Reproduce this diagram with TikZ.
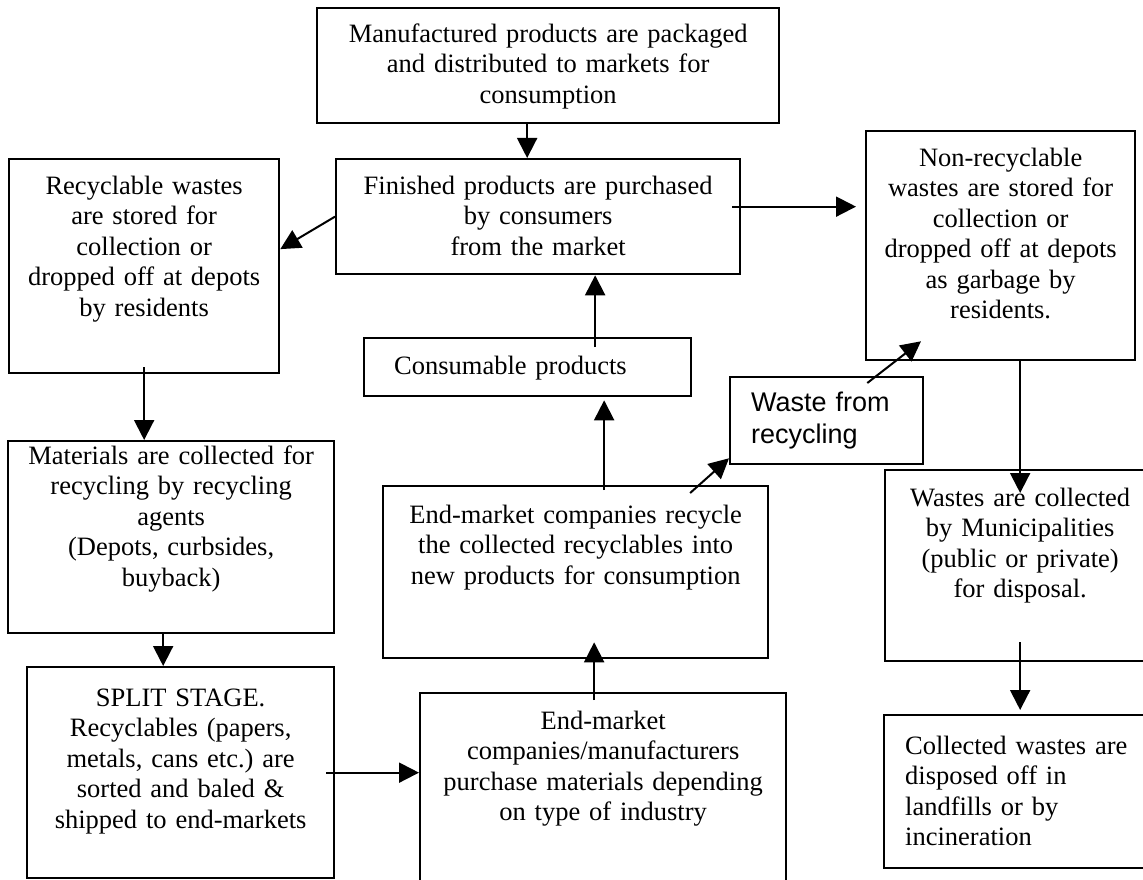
\documentclass[tikz,border=0pt]{standalone}
\usepackage{fontspec}
\setmainfont{Liberation Serif}
\newfontfamily\arialfont{Liberation Sans}
\usetikzlibrary{arrows.meta}
\frenchspacing

\begin{document}
\begin{tikzpicture}[x=1pt,y=-1pt,
  box/.style={draw,line width=2.3pt,align=center,inner sep=0pt,anchor=north west,font=\fontsize{26.5}{30.5}\selectfont},
  arr/.style={line width=2pt,-{Triangle[length=20pt,width=20pt]}}]
  \useasboundingbox (0,0) rectangle (1143,880);
  \node[box,text width=462pt,text height=34pt,text depth=81pt] (maf) at (316,7) {Manufactured products are packaged\\and distributed to markets for\\consumption};
  \node[box,text width=404pt,text height=35pt,text depth=80pt] (buy) at (335,158) {Finished products are purchased\\by consumers\\from the market};
  \node[box,text width=270pt,text height=35pt,text depth=179pt] (recyc) at (8,158) {Recyclable wastes\\are stored for\\collection or\\dropped off at depots\\by residents};
  \node[box,text width=269pt,text height=35pt,text depth=194pt] (nonrec) at (865,130) {Non-recyclable\\wastes are stored for\\collection or\\dropped off at depots\\as garbage by\\residents.};
  \node[box,align=left,inner xsep=30pt,text width=267pt,text height=36pt,text depth=22pt] (cons) at (363,337) {Consumable products};
  \node[box,align=left,inner xsep=21pt,text width=151pt,text height=34pt,text depth=53pt,font=\arialfont\fontsize{27}{32}\selectfont] (wfr) at (729,376) {Waste from\\recycling};
  \node[box,text width=326pt,text height=23pt,text depth=169pt] (coll) at (7,440) {Materials are collected for\\recycling by recycling\\agents\\(Depots, curbsides,\\buyback)};
  \node[box,text width=307pt,text height=39pt,text depth=172pt] (split) at (26,666) {SPLIT STAGE.\\Recyclables (papers,\\metals, cans etc.) are\\sorted and baled \&\\shipped to end-markets};
  \node[box,text width=385pt,text height=37pt,text depth=135pt] (newp) at (382,485) {End-market companies recycle\\the collected recyclables into\\new products for consumption};
  \node[box,text width=366pt,text height=36pt,text depth=190pt] (purch) at (419,692) {End-market\\companies/manufacturers\\purchase materials depending\\on type of industry};
  \node[box,text width=270pt,text height=36pt,text depth=155pt] (muni) at (884,469) {Wastes are collected\\by Municipalities\\(public or private)\\for disposal.};
  \node[box,align=left,inner xsep=21pt,text width=235pt,text height=39pt,text depth=114pt] (disp) at (883,714) {Collected wastes are\\disposed off in\\landfills or by\\incineration};
  \draw[arr] ([xshift=-21pt]maf.south) -- ([xshift=-11pt]buy.north);
  \draw[arr] (buy.west) -- ([yshift=17pt]recyc.east);
  \draw[arr] ([xshift=-9pt,yshift=10pt]buy.east) -- ([xshift=-9pt,yshift=10pt]buy.east -| nonrec.west);
  \draw[arr] ([xshift=67.5pt,yshift=-10pt]cons.north) -- ([xshift=67.5pt]cons.north |- buy.south);
  \draw[arr,shorten <=-5pt,shorten >=3pt] ([xshift=28.5pt]newp.north) -- ([xshift=28.5pt]newp.north |- cons.south);
  \draw[arr,shorten <=-8pt,shorten >=-17pt] ([xshift=-9pt]purch.north) -- ([xshift=-9pt]purch.north |- newp.south);
  \draw[arr] ([xshift=114.5pt,yshift=-8pt]newp.north) -- ([yshift=7pt]wfr.south west);
  \draw[arr] ([xshift=-57pt,yshift=-7pt]wfr.north east) -- ([xshift=56pt,yshift=20pt]nonrec.south west);
  \draw[arr,shorten <=-7pt] (recyc.south) -- (recyc.south |- coll.north);
  \draw[arr] ([xshift=-8pt]coll.south) -- ([xshift=-8pt]coll.south |- split.north);
  \draw[arr,shorten <=-9pt] (split.east) -- (split.east -| purch.west);
  \draw[arr,shorten >=-24pt] ([xshift=19.5pt]nonrec.south) -- ([xshift=19.5pt]nonrec.south |- muni.north);
  \draw[arr,shorten <=-20pt,shorten >=4pt] (muni.south) -- (muni.south |- disp.north);
\end{tikzpicture}
\end{document}
